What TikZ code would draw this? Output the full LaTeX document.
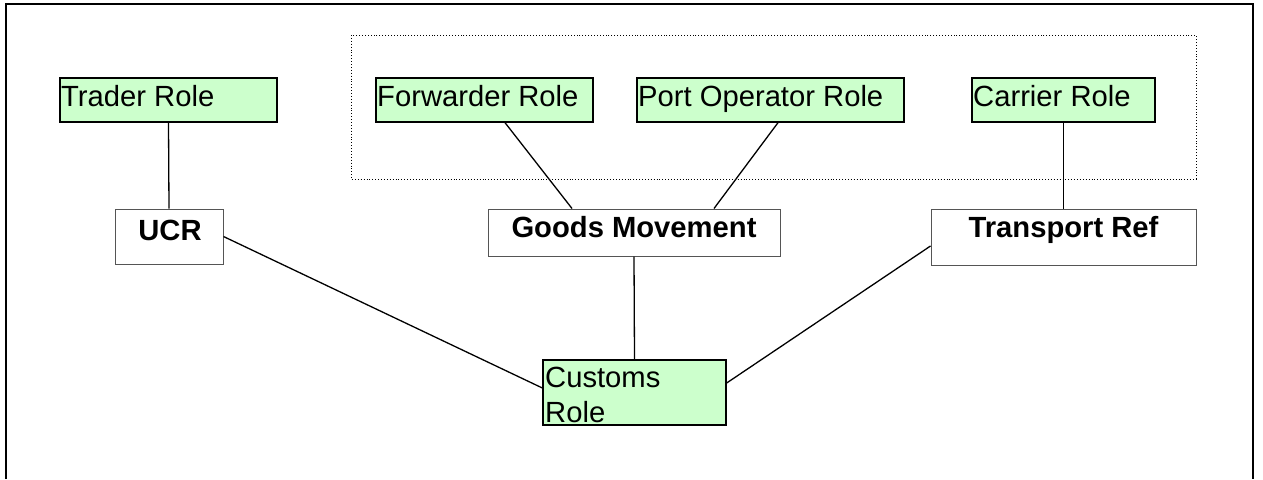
\documentclass[tikz,border=0pt]{standalone}
\usepackage{fontspec}
\setmainfont{Liberation Sans}
\definecolor{rolegreen}{HTML}{CCFFCC}
\definecolor{refgray}{HTML}{555555}
\begin{document}
\begin{tikzpicture}[x=1pt,y=-1pt,
  role/.style={draw=black, line width=1.3pt, fill=rolegreen, inner sep=0pt},
  refbox/.style={draw=refgray, line width=1pt, fill=white, inner sep=0pt},
  roletext/.style={anchor=base west, inner sep=0pt, font=\fontsize{29.2}{33}\selectfont},
  reftext/.style={anchor=base, inner sep=0pt, font=\fontsize{29.2}{33}\selectfont\bfseries},
  link/.style={draw=black, line width=1.3pt},
  group/.style={draw=black, line width=0.9pt, dotted}]
\useasboundingbox (0,0) rectangle (1263,479);
% outer frame (open at bottom)
\draw[line width=1.3pt] (6,479) -- (6,4) -- (1253,4) -- (1253,479);
% dotted group
\draw[group] (351,35) rectangle (1196,179);
% boxes
\node[role, minimum width=217pt, minimum height=44pt] (trader) at (168.5,100) {};
\node[role, minimum width=217pt, minimum height=44pt] (fwd) at (484.5,100) {};
\node[role, minimum width=267pt, minimum height=44pt] (port) at (770.5,100) {};
\node[role, minimum width=183pt, minimum height=44pt] (carrier) at (1063.5,100) {};
\node[refbox, minimum width=108pt, minimum height=55pt] (ucr) at (169,236.5) {};
\node[refbox, minimum width=292pt, minimum height=47pt] (goods) at (634,232.5) {};
\node[refbox, minimum width=265pt, minimum height=56pt] (transport) at (1063.5,237) {};
\node[role, minimum width=183pt, minimum height=65pt] (customs) at (634.5,392.5) {};
% texts
\node[roletext] (traderT) at (61,106) {Trader Role};
\node[roletext] (fwdT) at (377,106) {Forwarder Role};
\node[roletext] (portT) at (638,106) {Port Operator Role};
\node[roletext] (carrierT) at (973,106) {Carrier Role};
\node[reftext] (ucrT) at (170,240) {UCR};
\node[reftext] (goodsT) at (634,237) {Goods Movement};
\node[reftext] (transportT) at (1063.5,237) {Transport Ref};
\node[roletext] (customsT1) at (545,387) {Customs};
\node[roletext] (customsT2) at (545,422) {Role};
% connectors
\draw[link] (trader.south) -- (ucr.north);
\draw[link] ([xshift=20.5pt]fwd.south) -- ([xshift=-62pt]goods.north);
\draw[link] ([xshift=7.5pt]port.south) -- ([xshift=80pt]goods.north);
\draw[link] (carrier.south) -- (transport.north);
\draw[link] (ucr.east) -- ([yshift=4.5pt]customs.west);
\draw[link] (goods.south) -- (customs.north);
\draw[link] ([yshift=-9pt]transport.west) -- ([yshift=9.5pt]customs.east);
\end{tikzpicture}
\end{document}
